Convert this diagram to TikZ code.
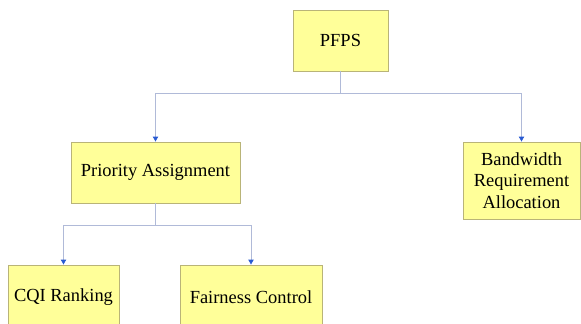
\documentclass[tikz,border=0pt]{standalone}
\usepackage{fontspec}
\setmainfont{Liberation Serif}
\usetikzlibrary{arrows.meta}

\definecolor{boxfill}{RGB}{255,255,153}
\definecolor{boxline}{RGB}{185,180,120}
\definecolor{linkline}{RGB}{176,186,216}
\definecolor{linktip}{RGB}{40,90,210}

\tikzset{
	block/.style = {draw = boxline, fill = boxfill, line width = 0.5pt, inner sep = 0pt, align = center,
		font = \fontsize{10.5}{12.2}\selectfont},
	link/.style = {draw = linkline, line width = 0.5pt,
		-{Triangle[color = linktip, length = 2.8pt, width = 3pt]}}
}

\begin{document}
\begin{tikzpicture}
	\clip (0, 0) rectangle (11.62, -6.48);
	
	\node[block, minimum width = 1.9 cm, minimum height = 1.22 cm] (pfps) at (6.81, -0.81) {PFPS};
	\node[block, minimum width = 3.38 cm, minimum height = 1.22 cm] (prio) at (3.11, -3.45) {Priority Assignment};
	\node[block, minimum width = 2.34 cm, minimum height = 1.54 cm] (bwra) at (10.43, -3.61) {Bandwidth\\Requirement\\Allocation};
	\node[block, minimum width = 2.22 cm, minimum height = 1.3 cm] (cqi) at (1.27, -5.95) {CQI Ranking};
	\node[block, minimum width = 2.84 cm, minimum height = 1.3 cm] (fair) at (5.02, -5.95) {Fairness Control};
	
	\coordinate (bus1) at (0, -1.86);
	\coordinate (bus2) at (0, -4.5);
	
	\draw[link] (pfps.south) -- (pfps.south |- bus1) -| (prio.north);
	\draw[link] (pfps.south) -- (pfps.south |- bus1) -| (bwra.north);
	\draw[link] (prio.south) -- (prio.south |- bus2) -| (cqi.north);
	\draw[link] (prio.south) -- (prio.south |- bus2) -| (fair.north);
\end{tikzpicture}
\end{document}
